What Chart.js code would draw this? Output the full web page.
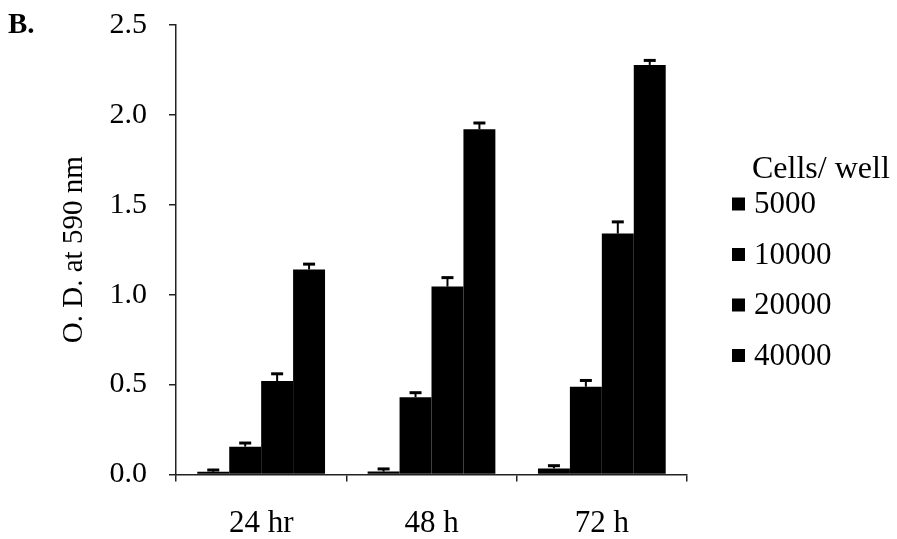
<!DOCTYPE html>
<html>
<head>
<meta charset="utf-8">
<script src="https://cdn.jsdelivr.net/npm/chart.js@4/dist/chart.umd.min.js"></script>
<style>
  html, body { margin: 0; padding: 0; background: #fff; }
  #wrap { width: 897px; height: 539px; }
</style>
</head>
<body>
<div id="wrap"><canvas id="chart" width="897" height="539"></canvas></div>
<script>
// Data
const timepoints = ["24 hr", "48 h", "72 h"];
const cellLabels = ["5000", "10000", "20000", "40000"];
const od5000 = [0.015, 0.016, 0.034];
const od10000 = [0.155, 0.43, 0.488];
const od20000 = [0.52, 1.045, 1.34];
const od40000 = [1.14, 1.92, 2.278];
const err5000 = [0.01, 0.015, 0.015];
const err10000 = [0.02, 0.025, 0.035];
const err20000 = [0.04, 0.05, 0.065];
const err40000 = [0.03, 0.035, 0.025];
const yTicks = [0, 0.5, 1.0, 1.5, 2.0, 2.5];
const legendTitle = "Cells/ well";
const panelLabel = "B.";

const serif = "'Liberation Serif', 'Times New Roman', serif";
const values = [od5000, od10000, od20000, od40000];
const errors = [err5000, err10000, err20000, err40000];

// error bars (upper half only, the bars are black anyway)
const errorBars = {
  id: "errorBars",
  afterDatasetsDraw(chart) {
    const ctx = chart.ctx;
    const y = chart.scales.y;
    ctx.save();
    ctx.strokeStyle = "#000";
    chart.data.datasets.forEach((ds, i) => {
      const meta = chart.getDatasetMeta(i);
      meta.data.forEach((bar, j) => {
        const top = y.getPixelForValue(ds.data[j] + ds.errors[j]);
        ctx.lineWidth = 2;
        ctx.beginPath();
        ctx.moveTo(bar.x, bar.y);
        ctx.lineTo(bar.x, top);
        ctx.stroke();
        ctx.lineWidth = 3;
        ctx.beginPath();
        ctx.moveTo(bar.x - 6, top);
        ctx.lineTo(bar.x + 6, top);
        ctx.stroke();
      });
    });
    ctx.restore();
  }
};

// legend + panel letter
const sideText = {
  id: "sideText",
  afterDraw(chart) {
    const ctx = chart.ctx;
    ctx.save();
    ctx.fillStyle = "#000";
    ctx.textBaseline = "middle";
    ctx.textAlign = "left";
    ctx.font = "bold 29px " + serif;
    ctx.fillText(panelLabel, 8, 26);
    ctx.font = "32px " + serif;
    ctx.fillText(legendTitle, 752, 170);
    ctx.font = "31px " + serif;
    chart.data.datasets.forEach((ds, i) => {
      const cy = 204 + i * 50.5;
      ctx.fillStyle = ds.backgroundColor;
      ctx.fillRect(732, cy - 6.5, 13, 13);
      ctx.fillStyle = "#000";
      ctx.fillText(ds.label, 754, cy + 1);
    });
    ctx.restore();
  }
};

new Chart(document.getElementById("chart"), {
  type: "bar",
  data: {
    labels: timepoints,
    datasets: cellLabels.map((lab, i) => ({
      label: lab,
      data: values[i],
      errors: errors[i],
      backgroundColor: "#000",
      borderWidth: 0,
      barPercentage: 1,
      categoryPercentage: 0.75
    }))
  },
  options: {
    responsive: false,
    animation: false,
    layout: { padding: { top: 25, right: 210, left: 0, bottom: 0 } },
    plugins: {
      legend: { display: false },
      tooltip: { enabled: false }
    },
    scales: {
      x: {
        grid: { drawOnChartArea: false, drawTicks: true, tickLength: 7, color: "#222", lineWidth: 1.5 },
        border: { color: "#222", width: 1.5 },
        ticks: { color: "#000", padding: 24, font: { family: serif, size: 31 } },
        afterFit(scale) { scale.height = 64.5; scale.paddingLeft = 0; scale.paddingRight = 0; }
      },
      y: {
        min: 0,
        max: 2.5,
        afterBuildTicks(scale) { scale.ticks = yTicks.map(v => ({ value: v })); },
        grid: { drawOnChartArea: false, drawTicks: true, tickLength: 7, color: "#222", lineWidth: 1.5 },
        border: { color: "#222", width: 1.5 },
        ticks: {
          color: "#000",
          padding: 22,
          font: { family: serif, size: 30 },
          callback: v => v.toFixed(1)
        },
        title: {
          display: true,
          text: "O. D. at 590 nm",
          color: "#000",
          font: { family: serif, size: 29 },
          padding: { top: 57, bottom: 0 }
        },
        afterFit(scale) { scale.width = 176; scale.paddingTop = 0; scale.paddingBottom = 0; }
      }
    }
  },
  plugins: [errorBars, sideText]
});
</script>
</body>
</html>
